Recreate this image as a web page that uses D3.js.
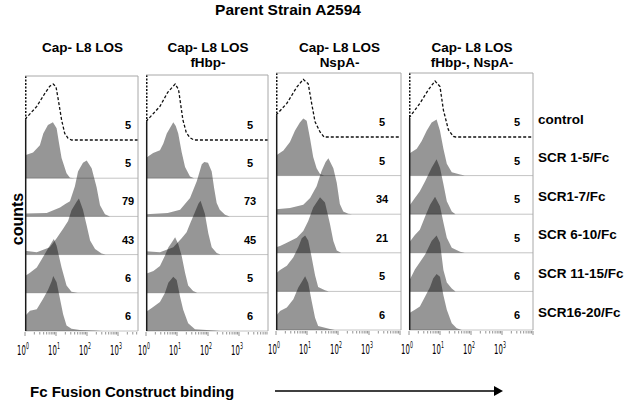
<!DOCTYPE html>
<html><head><meta charset="utf-8">
<script src="https://cdn.jsdelivr.net/npm/d3@7"></script>
<style>
body{margin:0;background:#fff}
svg text{font-family:"Liberation Sans",Arial,Helvetica,sans-serif;font-weight:bold;fill:#000}
</style>
</head><body>
<svg id="chart" width="628" height="402"></svg>
<script>
// ---------------- data ----------------
const chartTitle = "Parent Strain A2594";
const columnTitles = [["Cap- L8 LOS"], ["Cap- L8 LOS", "fHbp-"], ["Cap- L8 LOS", "NspA-"], ["Cap- L8 LOS", "fHbp-, NspA-"]];
const rowLabels = ["control", "SCR 1-5/Fc", "SCR1-7/Fc", "SCR 6-10/Fc", "SCR 11-15/Fc", "SCR16-20/Fc"];
const mfiValues = [
  [5, 5, 79, 43, 6, 6],
  [5, 5, 73, 45, 5, 6],
  [5, 5, 34, 21, 5, 6],
  [5, 5, 5, 5, 6, 6]
];
const tickExponents = [0, 1, 2, 3];
const yAxisLabel = "counts";
const xAxisLabel = "Fc Fusion Construct binding";

// histogram outlines: [log10 fluorescence, relative count (peak ~1)]
// order per strain: control, SCR 1-5, SCR1-7, SCR 6-10, SCR 11-15, SCR16-20
const histCapL8 = [
  [[0,0.37],[0.38,0.6],[0.65,0.84],[0.8,0.96],[0.91,1.0],[1.0,0.95],[1.08,0.7],[1.18,0.36],[1.28,0.12],[1.39,0.03],[1.5,0],[4,0]],
  [[0,0.41],[0.26,0.46],[0.48,0.59],[0.59,0.8],[0.74,0.95],[0.9,1.0],[1.02,0.89],[1.1,0.62],[1.18,0.36],[1.34,0.09],[1.45,0.01],[1.6,0],[4,0]],
  [[0,0.05],[0.7,0.06],[1.13,0.16],[1.3,0.22],[1.45,0.27],[1.61,0.54],[1.71,0.8],[1.87,0.96],[1.99,1.0],[2.15,0.86],[2.31,0.52],[2.42,0.2],[2.58,0.04],[2.74,0],[4,0]],
  [[0,0.07],[0.38,0.04],[0.8,0.13],[1.02,0.29],[1.23,0.46],[1.39,0.6],[1.5,0.79],[1.67,0.95],[1.74,1.0],[1.87,0.8],[1.99,0.52],[2.1,0.25],[2.26,0.1],[2.47,0.02],[2.6,0],[4,0]],
  [[0,0.3],[0.16,0.36],[0.38,0.45],[0.54,0.6],[0.7,0.75],[0.86,0.9],[0.93,0.96],[1.02,0.84],[1.18,0.45],[1.34,0.13],[1.5,0.02],[1.7,0],[4,0]],
  [[0,0.27],[0.16,0.36],[0.38,0.39],[0.58,0.57],[0.74,0.73],[0.86,0.89],[0.91,0.98],[1.02,0.87],[1.13,0.57],[1.23,0.3],[1.34,0.1],[1.5,0.04],[1.77,0.02],[2.25,0.01],[2.5,0],[4,0]]
];
const histFhbp = [
  [[0,0.33],[0.45,0.6],[0.7,0.85],[0.94,1.0],[1.05,0.9],[1.19,0.36],[1.3,0.13],[1.42,0.04],[1.55,0],[4,0]],
  [[0,0.36],[0.1,0.4],[0.23,0.45],[0.45,0.5],[0.56,0.62],[0.67,0.8],[0.83,0.95],[0.88,1.0],[0.96,0.93],[1.04,0.8],[1.15,0.47],[1.26,0.2],[1.42,0.03],[1.55,0],[4,0]],
  [[0,0.04],[0.7,0.06],[1.1,0.12],[1.42,0.33],[1.64,0.63],[1.8,0.93],[1.88,0.97],[2.0,0.96],[2.12,0.8],[2.2,0.5],[2.28,0.24],[2.38,0.12],[2.55,0.03],[2.7,0],[4,0]],
  [[0,0.06],[0.45,0.04],[0.88,0.13],[1.15,0.29],[1.31,0.4],[1.42,0.55],[1.58,0.76],[1.69,0.91],[1.76,0.96],[1.9,0.73],[2.01,0.38],[2.12,0.13],[2.28,0.03],[2.4,0],[4,0]],
  [[0,0.34],[0.24,0.39],[0.45,0.48],[0.61,0.66],[0.72,0.81],[0.83,0.9],[0.94,0.99],[1.04,0.87],[1.15,0.66],[1.26,0.36],[1.36,0.13],[1.52,0.03],[1.65,0],[4,0]],
  [[0,0.34],[0.23,0.43],[0.45,0.52],[0.61,0.68],[0.72,0.86],[0.88,0.97],[0.99,0.91],[1.1,0.61],[1.2,0.38],[1.36,0.14],[1.58,0.03],[2.2,0.01],[2.4,0],[4,0]]
];
const histNspA = [
  [[0,0.39],[0.35,0.6],[0.67,0.89],[0.88,1.03],[1.04,0.95],[1.15,0.6],[1.26,0.27],[1.42,0.09],[1.55,0],[4,0]],
  [[0,0.36],[0.24,0.45],[0.45,0.6],[0.61,0.8],[0.77,0.95],[0.88,1.02],[0.99,0.98],[1.1,0.66],[1.2,0.33],[1.31,0.13],[1.42,0.03],[1.55,0],[4,0]],
  [[0,0.09],[0.45,0.11],[0.88,0.17],[1.1,0.29],[1.31,0.5],[1.47,0.77],[1.6,0.93],[1.69,1.0],[1.85,0.82],[1.96,0.56],[2.06,0.18],[2.17,0.05],[2.33,0.01],[2.45,0],[4,0]],
  [[0,0.1],[0.13,0.12],[0.35,0.18],[0.67,0.27],[0.88,0.39],[1.04,0.57],[1.2,0.81],[1.42,0.99],[1.58,0.9],[1.74,0.52],[1.85,0.21],[1.96,0.04],[2.1,0],[4,0]],
  [[0,0.32],[0.13,0.38],[0.35,0.46],[0.56,0.61],[0.72,0.79],[0.83,0.95],[0.94,1.0],[1.04,0.91],[1.15,0.61],[1.26,0.29],[1.36,0.08],[1.58,0.02],[1.7,0],[4,0]],
  [[0,0.25],[0.13,0.34],[0.35,0.4],[0.56,0.55],[0.72,0.76],[0.94,0.96],[1.04,0.84],[1.15,0.52],[1.26,0.22],[1.36,0.07],[1.74,0.02],[1.9,0],[4,0]]
];
const histFhbpNspA = [
  [[0,0.34],[0.35,0.6],[0.62,0.84],[0.84,1.0],[1.0,0.9],[1.11,0.48],[1.27,0.13],[1.43,0.01],[1.5,0],[4,0]],
  [[0,0.39],[0.25,0.48],[0.41,0.62],[0.57,0.8],[0.73,0.95],[0.89,1.0],[1.0,0.8],[1.11,0.48],[1.22,0.21],[1.38,0.06],[1.65,0.02],[1.8,0],[4,0]],
  [[0,0.14],[0.19,0.29],[0.35,0.41],[0.52,0.59],[0.73,0.83],[0.89,0.98],[1.0,0.83],[1.11,0.54],[1.22,0.23],[1.38,0.05],[1.5,0],[4,0]],
  [[0,0.18],[0.19,0.32],[0.35,0.41],[0.52,0.65],[0.68,0.86],[0.84,1.0],[1.0,0.83],[1.11,0.54],[1.22,0.27],[1.38,0.09],[1.65,0.02],[1.8,0],[4,0]],
  [[0,0.18],[0.19,0.39],[0.35,0.52],[0.52,0.66],[0.73,0.9],[0.89,1.0],[1.0,0.87],[1.11,0.38],[1.22,0.16],[1.38,0.05],[1.5,0],[4,0]],
  [[0,0.3],[0.19,0.36],[0.35,0.42],[0.52,0.6],[0.68,0.77],[0.78,0.92],[0.89,1.0],[1.0,0.95],[1.11,0.62],[1.22,0.36],[1.38,0.12],[1.54,0.03],[1.7,0],[4,0]]
];
const histograms = [histCapL8, histFhbp, histNspA, histFhbpNspA];

// ---------------- layout ----------------
const panels = [
  {x0: 25,  x1: 138, top: 76, bottom: 331, b0: 140, numX: 128},
  {x0: 146, x1: 268, top: 75, bottom: 331, b0: 140, numX: 250},
  {x0: 276, x1: 401, top: 73, bottom: 330, b0: 137, numX: 382},
  {x0: 409, x1: 533, top: 73, bottom: 330, b0: 137, numX: 517}
];
const peakHeight = 56;

const svg = d3.select("#chart");
const defs = svg.append("defs");

svg.append("text").attr("x", 288).attr("y", 15).attr("text-anchor", "middle")
  .style("font-size", "15.5px").text(chartTitle);

panels.forEach((p, ci) => {
  const x = d3.scaleLog().domain([1, 1e4]).range([p.x0, p.x0 + 124]);
  const rowBase = d3.scaleLinear().domain([0, 5]).range([p.b0, p.bottom]);
  const h = d3.scaleLinear().domain([0, 1]).range([0, peakHeight]);
  const cx = (p.x0 + p.x1) / 2;

  // column title
  const t = svg.append("text").attr("text-anchor", "middle").style("font-size", "13.5px");
  columnTitles[ci].forEach((line, li) => {
    t.append("tspan").attr("x", cx + 1).attr("y", 52 + li * 15).text(line);
  });

  const clipId = "clip" + ci;
  defs.append("clipPath").attr("id", clipId).append("rect")
    .attr("x", p.x0).attr("y", p.top).attr("width", p.x1 - p.x0).attr("height", p.bottom - p.top + 0.5);

  const g = svg.append("g");
  // row separators
  d3.range(1, 6).forEach(i => {
    g.append("line").attr("x1", p.x0).attr("x2", p.x1)
      .attr("y1", rowBase(i)).attr("y2", rowBase(i))
      .attr("stroke", "#c4c4c4").attr("stroke-width", 1);
  });

  const inner = g.append("g").attr("clip-path", `url(#${clipId})`);
  const hist = histograms[ci];
  hist.forEach((data, ri) => {
    const base = rowBase(ri);
    if (ri === 0) {
      const line = d3.line().x(d => x(10 ** d[0])).y(d => base - h(d[1]));
      inner.append("path").datum(data).attr("d", line)
        .attr("fill", "none").attr("stroke", "#111").attr("stroke-width", 1.3)
        .attr("stroke-dasharray", "3,2");
      // first-bin spike
      inner.append("line").attr("x1", p.x0 + 0.7).attr("x2", p.x0 + 0.7)
        .attr("y1", p.top).attr("y2", base - h(data[0][1]))
        .attr("stroke", "#111").attr("stroke-width", 1.6).attr("stroke-dasharray", "2,1.5");
    } else {
      const area = d3.area().x(d => x(10 ** d[0])).y0(base).y1(d => base - h(d[1]));
      inner.append("path").datum(data).attr("d", area)
        .attr("fill", "#000").attr("fill-opacity", 0.41).attr("stroke", "none");
    }
  });

  // left edge (first-bin spikes of the filled histograms)
  g.append("line").attr("x1", p.x0 + 0.7).attr("x2", p.x0 + 0.7)
    .attr("y1", rowBase(0) - h(hist[0][0][1])).attr("y2", p.bottom)
    .attr("stroke", "#1a1a1a").attr("stroke-width", 1.5);

  // frame top & right
  g.append("line").attr("x1", p.x0).attr("x2", p.x1).attr("y1", p.top).attr("y2", p.top)
    .attr("stroke", "#a8a8a8");
  g.append("line").attr("x1", p.x1).attr("x2", p.x1).attr("y1", p.top).attr("y2", p.bottom)
    .attr("stroke", "#a8a8a8");

  // MFI numbers
  mfiValues[ci].forEach((v, ri) => {
    svg.append("text").attr("x", p.numX).attr("y", rowBase(ri) - 11)
      .attr("text-anchor", "middle").style("font-size", "11px").text(v);
  });

  // log ticks
  const ticks = x.ticks().filter(v => x(v) <= p.x1 + 0.5);
  svg.append("g").selectAll("line").data(ticks).join("line")
    .attr("x1", d => x(d)).attr("x2", d => x(d))
    .attr("y1", p.bottom + 1)
    .attr("y2", d => Math.abs(Math.log10(d) - Math.round(Math.log10(d))) < 1e-9 ? p.bottom + 5 : p.bottom + 3.5)
    .attr("stroke", "#777").attr("stroke-width", 0.8);

  // tick labels 10^n
  tickExponents.forEach(k => {
    const lg = svg.append("g").attr("transform", `translate(${x(10 ** k) - 2},${p.bottom + 24}) scale(0.55,1)`);
    const tx = lg.append("text").attr("text-anchor", "middle")
      .style("font-family", "'Liberation Sans Narrow','DejaVu Sans Condensed',sans-serif")
      .style("font-weight", "normal").style("font-size", "14px");
    tx.append("tspan").text("10");
    tx.append("tspan").attr("dy", -6.5).style("font-size", "9.5px").text(k);
  });
});

// row labels
const lastPanel = panels[3];
const rb = d3.scaleLinear().domain([0, 5]).range([lastPanel.b0, lastPanel.bottom]);
rowLabels.forEach((lab, ri) => {
  svg.append("text").attr("x", 538).attr("y", rb(ri) - 13.5)
    .style("font-size", "13.5px").text(lab);
});

// y label
svg.append("text").attr("transform", "translate(23,219) rotate(-90)")
  .attr("text-anchor", "middle").style("font-size", "16px").text(yAxisLabel);

// x label + arrow
svg.append("text").attr("x", 30).attr("y", 397).style("font-size", "15px").text(xAxisLabel);
svg.append("line").attr("x1", 275).attr("x2", 494).attr("y1", 391).attr("y2", 391)
  .attr("stroke", "#000").attr("stroke-width", 1.3);
svg.append("path").attr("d", "M494,386 L503,391 L494,396 Z").attr("fill", "#000");
</script>
</body></html>
